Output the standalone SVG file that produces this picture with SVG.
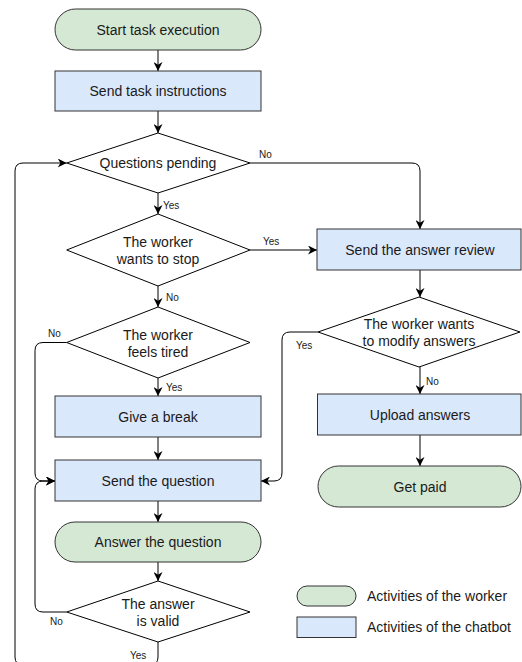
<svg xmlns="http://www.w3.org/2000/svg" width="522" height="662" viewBox="0 0 522 662">
<style>
.w{fill:#d5e8d4;stroke:#333;stroke-width:1}
.b{fill:#dae8fc;stroke:#333;stroke-width:1}
.d{fill:#fff;stroke:#000;stroke-width:1}
.t{font-family:"Liberation Sans",Arial,sans-serif;font-size:14px;fill:#1a1a1a;text-anchor:middle;dominant-baseline:central}
.l{font-family:"Liberation Sans",Arial,sans-serif;font-size:10px;fill:#1a1a1a;dominant-baseline:central}
.g{font-family:"Liberation Sans",Arial,sans-serif;font-size:14px;fill:#1a1a1a;dominant-baseline:central}
.e{fill:none;stroke:#000;stroke-width:1;marker-end:url(#arr)}
</style>
<defs>
<marker id="arr" viewBox="0 0 10 10" refX="10" refY="5" markerWidth="9" markerHeight="9" markerUnits="userSpaceOnUse" orient="auto">
<path d="M0,0 L10,5 L0,10 L3,5 z" fill="#000"/>
</marker>
</defs>
<rect width="522" height="662" fill="#fff"/>
<g id="connectors">
<path class="e" d="M158,50 V71"/>
<path class="e" d="M158,111 V133"/>
<path class="e" d="M158,193 V214"/>
<path class="e" d="M250,163 H412 Q420,163 420,171 V229"/>
<path class="e" d="M250,250 H317"/>
<path class="e" d="M158,286 V307"/>
<path class="e" d="M66.7,342.5 H43 Q35,342.5 35,350.5 V473 Q35,481 43,481 H55"/>
<path class="e" d="M158,378 V396"/>
<path class="e" d="M158,437 V460"/>
<path class="e" d="M158,501 V522"/>
<path class="e" d="M158,562 V581"/>
<path class="e" d="M66.7,612 H43 Q35,612 35,604 V489 Q35,481 43,481 H55"/>
<path class="e" d="M158,642 V657 Q158,665 150,665 H23 Q15,665 15,657 V171 Q15,163 23,163 H66.7"/>
<path class="e" d="M420,270 V297"/>
<path class="e" d="M318,332 H290 Q282,332 282,340 V473 Q282,481 274,481 H261"/>
<path class="e" d="M420,367 V394"/>
<path class="e" d="M420,435 V466"/>
<text class="l" x="163" y="205">Yes</text>
<text class="l" x="259" y="154">No</text>
<text class="l" x="263" y="241">Yes</text>
<text class="l" x="166" y="297">No</text>
<text class="l" x="48" y="333">No</text>
<text class="l" x="166" y="387">Yes</text>
<text class="l" x="50" y="621">No</text>
<text class="l" x="130" y="655">Yes</text>
<text class="l" x="296" y="345">Yes</text>
<text class="l" x="426" y="381">No</text>
</g>
<g id="start"><rect class="w" x="55" y="9" width="206" height="41" rx="20.5"/><text class="t" x="158" y="29.5">Start task execution</text></g>
<g id="instructions"><rect class="b" x="55" y="71" width="206" height="40"/><text class="t" x="158" y="91">Send task instructions</text></g>
<g id="pending"><polygon class="d" points="158,133 250,163 158,193 66.7,163"/><text class="t" x="158" y="163">Questions pending</text></g>
<g id="stop"><polygon class="d" points="158,214 250,250 158,286 66.7,250"/><text class="t" x="158" y="242">The worker</text><text class="t" x="158" y="259">wants to stop</text></g>
<g id="tired"><polygon class="d" points="158,307 250,342.5 158,378 66.7,342.5"/><text class="t" x="158" y="334.5">The worker</text><text class="t" x="158" y="351.5">feels tired</text></g>
<g id="break"><rect class="b" x="55" y="396" width="206" height="41"/><text class="t" x="158" y="416.5">Give a break</text></g>
<g id="question"><rect class="b" x="55" y="460" width="206" height="41"/><text class="t" x="158" y="480.5">Send the question</text></g>
<g id="answer"><rect class="w" x="55" y="522" width="206" height="40" rx="20"/><text class="t" x="158" y="542">Answer the question</text></g>
<g id="valid"><polygon class="d" points="158,581 250,612 158,642 66.7,612"/><text class="t" x="158" y="603.5">The answer</text><text class="t" x="158" y="620.5">is valid</text></g>
<g id="review"><rect class="b" x="317" y="229" width="204" height="41"/><text class="t" x="420" y="249.5">Send the answer review</text></g>
<g id="modify"><polygon class="d" points="419,297 520,332 419,367 318,332"/><text class="t" x="419" y="324">The worker wants</text><text class="t" x="419" y="341">to modify answers</text></g>
<g id="upload"><rect class="b" x="317.5" y="394" width="203.5" height="41"/><text class="t" x="420" y="414.5">Upload answers</text></g>
<g id="paid"><rect class="w" x="318" y="466" width="203" height="41" rx="20.5"/><text class="t" x="420" y="486.5">Get paid</text></g>
<g id="legend-worker"><rect class="w" x="297" y="586" width="59" height="20" rx="10"/><text class="g" x="367" y="596">Activities of the worker</text></g>
<g id="legend-chatbot"><rect class="b" x="297" y="617" width="59" height="20.5"/><text class="g" x="367" y="627">Activities of the chatbot</text></g>
</svg>
